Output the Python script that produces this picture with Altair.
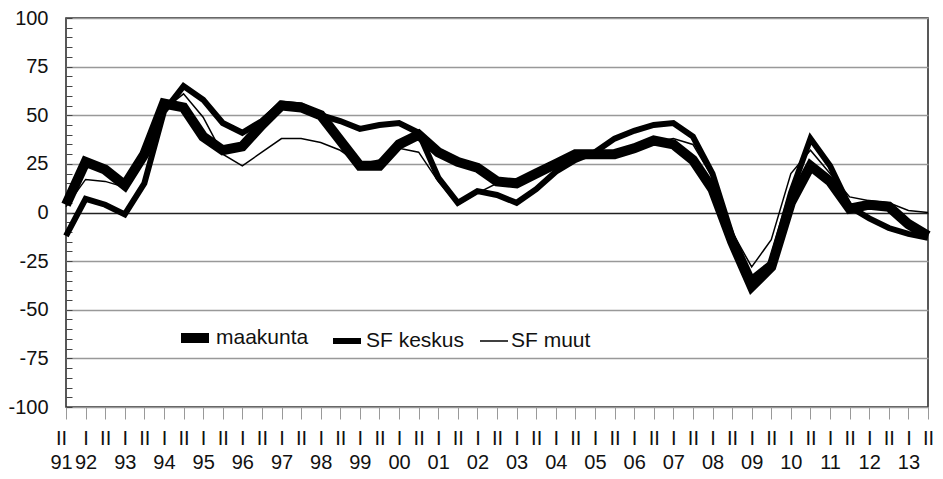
import altair as alt
import pandas as pd

periods = ["91 II", "92 I", "92 II", "93 I", "93 II", "94 I", "94 II", "95 I", "95 II",
           "96 I", "96 II", "97 I", "97 II", "98 I", "98 II", "99 I", "99 II", "00 I",
           "00 II", "01 I", "01 II", "02 I", "02 II", "03 I", "03 II", "04 I", "04 II",
           "05 I", "05 II", "06 I", "06 II", "07 I", "07 II", "08 I", "08 II", "09 I",
           "09 II", "10 I", "10 II", "11 I", "11 II", "12 I", "12 II", "13 I", "13 II"]

series = ["maakunta", "SF keskus", "SF muut"]

maakunta = [4, 26, 22, 14, 30, 56, 54, 39, 32, 34, 45, 55, 54, 50, 37, 24, 24, 35, 40, 31,
            26, 23, 16, 15, 20, 25, 30, 30, 30, 33, 37, 35, 27, 12, -15, -38, -28, 5, 24, 16,
            2, 4, 3, -6, -12]
sf_keskus = [-12, 7, 4, -1, 15, 52, 65, 58, 46, 41, 47, 56, 55, 50, 47, 43, 45, 46, 41, 18,
             5, 11, 9, 5, 12, 21, 27, 31, 38, 42, 45, 46, 39, 20, -12, -34, -26, 10, 38, 24,
             3, -3, -8, -11, -13]
sf_muut = [3, 17, 16, 13, 27, 53, 61, 49, 30, 24, 31, 38, 38, 36, 32, 25, 27, 33, 31, 16,
           4, 10, 15, 14, 19, 24, 28, 29, 31, 34, 36, 38, 35, 18, -10, -28, -14, 20, 32, 20,
           8, 6, 5, 1, 0]

values_by_series = [maakunta, sf_keskus, sf_muut]
rows = []
for s, vals in zip(series, values_by_series):
    for p, v in zip(periods, vals):
        rows.append({"period": p, "series": s, "value": v})
df = pd.DataFrame(rows)

FONT = "Liberation Sans"

x_label_expr = (
    "[split(datum.value, ' ')[1], "
    "(split(datum.value, ' ')[1] === 'I' || datum.value === '" + periods[0] + "') "
    "? split(datum.value, ' ')[0] : '']"
)

chart = alt.Chart(df).mark_line(
    color="black", strokeJoin="miter", strokeCap="butt"
).encode(
    x=alt.X(
        "period:N", sort=periods,
        scale=alt.Scale(type="point", padding=0),
        axis=alt.Axis(
            title=None, labelExpr=x_label_expr, labelAngle=0,
            tickSize=12, tickColor="#999999", tickWidth=1,
            labelPadding=9, labelLineHeight=24, domain=False, grid=False,
            labelFontSize=20, labelFont=FONT, labelColor="#111111",
            labelBaseline="top",
            labelOffset=alt.condition("datum.value === '" + periods[0] + "'",
                                      alt.value(-5), alt.value(0)),
        ),
    ),
    y=alt.Y(
        "value:Q",
        scale=alt.Scale(domain=[-100, 100], nice=False, zero=False),
        axis=alt.Axis(
            title=None, values=list(range(-100, 101, 5)),
            labelExpr="datum.value % 25 === 0 ? '' + datum.value : ''",
            offset=-6, tickSize=6, tickColor="#444444", tickWidth=1,
            domain=False, labelPadding=18,
            labelFontSize=20, labelFont=FONT, labelColor="#111111",
            grid=True, gridWidth=1.5,
            gridColor=alt.condition("datum.value === 0", alt.value("#222222"), alt.value("#999999")),
            gridOpacity=alt.condition("datum.value % 25 === 0", alt.value(1), alt.value(0)),
        ),
    ),
    strokeWidth=alt.StrokeWidth(
        "series:N", sort=series,
        scale=alt.Scale(type="ordinal", domain=series, range=[10, 6, 1.5]),
        legend=alt.Legend(
            title=None, orient="none", legendX=110, legendY=301,
            direction="horizontal", symbolType="stroke", symbolSize=784,
            symbolStrokeColor="black", labelFontSize=21, labelFont=FONT,
            labelColor="#111111", labelOffset=2, columnPadding=12, padding=0
        ),
    ),
).properties(
    width=862, height=389,
    autosize=alt.AutoSizeParams(type="none"),
    padding={"left": 58, "top": 10, "right": 7, "bottom": 70},
).configure_view(
    stroke="#222222", strokeWidth=1.5
)

chart.save("out.html", embed_options={"renderer": "svg", "actions": False})
